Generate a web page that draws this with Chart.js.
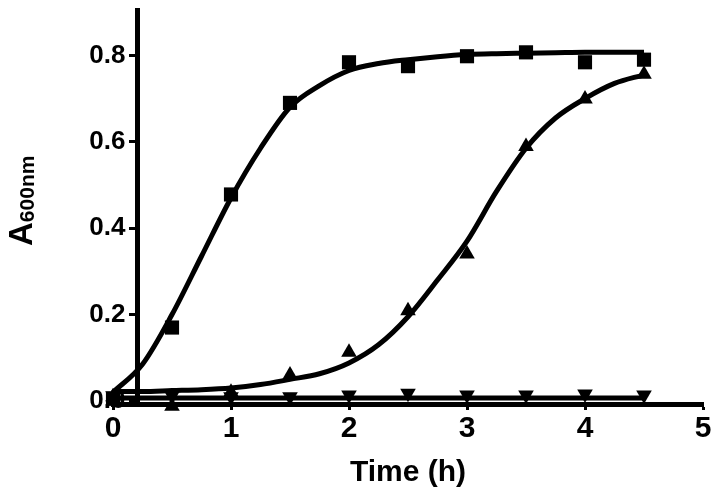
<!DOCTYPE html>
<html>
<head>
<meta charset="utf-8">
<script src="https://cdn.jsdelivr.net/npm/chart.js@4.4.1/dist/chart.umd.min.js"></script>
<style>
    html, body { margin: 0; padding: 0; background: #fff; }
    #wrap { position: relative; width: 717px; height: 503px; }
    #ytitle {
        position: absolute; left: 4px; top: 246px;
        transform-origin: 0 0; transform: rotate(-90deg);
        font: bold 33px "Liberation Sans", Arial, sans-serif;
        line-height: 1; white-space: nowrap; color: #000;
    }
    #ytitle span { font-size: 21px; position: relative; top: 2px; }
</style>
</head>
<body>
<div id="wrap">
    <canvas id="growth_chart" width="717" height="503"></canvas>
    <div id="ytitle">A<span>600nm</span></div>
</div>
<script>
// measured points
var time_points = [0, 0.5, 1, 1.5, 2, 2.5, 3, 3.5, 4, 4.5];
var square_values = [0.005, 0.17, 0.478, 0.69, 0.784, 0.775, 0.798, 0.807, 0.784, 0.79];
var triangle_values = [0.01, -0.012, 0.02, 0.06, 0.113, 0.209, 0.34, 0.589, 0.699, 0.756];
var inverted_values = [0.012, 0.012, 0.01, 0.01, 0.014, 0.018, 0.014, 0.014, 0.016, 0.014];

// fitted curves
var fit_times = [0, 0.25, 0.5, 0.75, 1, 1.25, 1.5, 1.75, 2, 2.25, 2.5, 2.75, 3, 3.25, 3.5, 3.75, 4, 4.25, 4.5];
var square_fit = [0.02, 0.085, 0.2, 0.335, 0.47, 0.585, 0.68, 0.73, 0.765, 0.781, 0.79, 0.797, 0.802, 0.804, 0.805, 0.806, 0.807, 0.807, 0.807];
var triangle_fit = [0.022, 0.022, 0.024, 0.026, 0.03, 0.038, 0.05, 0.063, 0.088, 0.13, 0.195, 0.28, 0.37, 0.485, 0.585, 0.655, 0.7, 0.735, 0.755];
var inverted_fit = [0.007, 0.007, 0.007, 0.007, 0.007, 0.007, 0.007, 0.007, 0.007, 0.007, 0.007, 0.007, 0.007, 0.007, 0.007, 0.007, 0.007, 0.007, 0.007];

var x_ticks = [0, 1, 2, 3, 4, 5];
var y_ticks = [0, 0.2, 0.4, 0.6, 0.8];

function to_xy(xs, ys) {
    return xs.map(function(x, i) {
        return { x: x, y: ys[i] };
    });
}

function fit_dataset(values) {
    return {
        type: 'line',
        data: to_xy(fit_times, values),
        borderColor: '#000',
        borderWidth: 5,
        pointRadius: 0,
        cubicInterpolationMode: 'monotone',
        fill: false,
        clip: false
    };
}

function point_dataset(values, style, radius, rotation) {
    return {
        type: 'scatter',
        data: to_xy(time_points, values),
        showLine: false,
        pointStyle: style,
        pointRadius: radius,
        rotation: rotation,
        backgroundColor: '#000',
        borderColor: '#000',
        borderWidth: 0,
        clip: false
    };
}

var font_name = '"Liberation Sans", Arial, sans-serif';

new Chart(document.getElementById('growth_chart').getContext('2d'), {
    type: 'scatter',
    data: {
        datasets: [
            fit_dataset(square_fit),
            fit_dataset(triangle_fit),
            fit_dataset(inverted_fit),
            point_dataset(square_values, 'rect', 10, 0),
            point_dataset(triangle_values, 'triangle', 9, 0),
            point_dataset(inverted_values, 'triangle', 9, 180)
        ]
    },
    options: {
        responsive: false,
        animation: false,
        layout: { padding: { left: 113, right: 14, top: 7, bottom: 0 } },
        plugins: {
            legend: { display: false },
            tooltip: { enabled: false }
        },
        scales: {
            x: {
                type: 'linear',
                min: 0,
                max: 5,
                afterBuildTicks: function(scale) {
                    scale.ticks = x_ticks.map(function(v) { return { value: v }; });
                },
                afterFit: function(scale) {
                    scale.height = 99;
                },
                grid: { drawOnChartArea: false, drawTicks: true, tickLength: 6, tickWidth: 3, color: '#000' },
                border: { display: true, width: 5, color: '#000' },
                ticks: {
                    color: '#000',
                    padding: 1,
                    font: { family: font_name, size: 30, weight: 'bold' },
                    callback: function(v) { return String(v); }
                },
                title: {
                    display: true,
                    text: 'Time (h)',
                    color: '#000',
                    font: { family: font_name, size: 30, weight: 'bold' },
                    padding: { top: 4, bottom: 12 }
                }
            },
            y: {
                type: 'linear',
                min: -0.007,
                max: 0.905,
                position: { x: 0.21 },
                afterBuildTicks: function(scale) {
                    scale.ticks = y_ticks.map(function(v) { return { value: v }; });
                },
                afterFit: function(scale) {
                    // the axis sits inside the plot, so it needs no room at the top
                    scale.paddingTop = 0;
                    scale.paddingBottom = 0;
                },
                grid: { drawOnChartArea: false, drawTicks: true, tickLength: 6, tickWidth: 3, color: '#000' },
                border: { display: true, width: 5, color: '#000' },
                ticks: {
                    color: '#000',
                    font: { family: font_name, size: 26, weight: 'bold' },
                    // labels are right-aligned on the axis line; the trailing gap keeps them off the tick marks
                    callback: function(v) { return v.toFixed(1) + ' \u2009'; }
                }
            }
        }
    }
});
</script>
</body>
</html>
